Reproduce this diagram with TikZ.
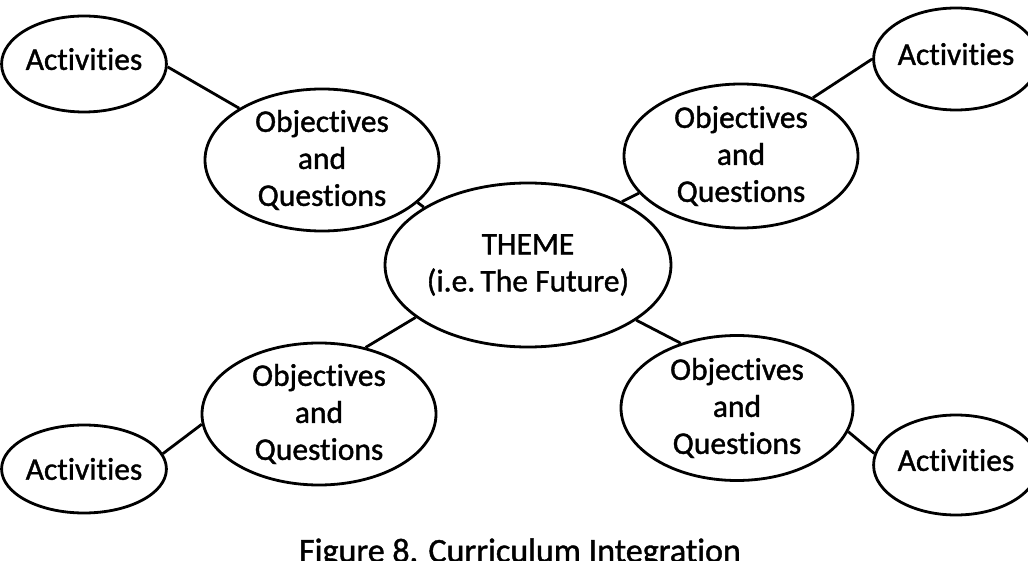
\documentclass[tikz,border=0pt]{standalone}
\usepackage{fontspec}
\setmainfont{Carlito}[FakeBold=1.2, Ligatures=NoCommon]
\usetikzlibrary{shapes.geometric}
\begin{document}
\begin{tikzpicture}[x=1pt,y=-1pt,
  bub/.style={draw, ellipse, line width=2.8pt, inner sep=0pt, align=center,
    font=\fontsize{31.5}{37}\selectfont},
  raised/.style={text depth=10pt},
  link/.style={line width=2.8pt}]
\useasboundingbox (0,0) rectangle (1028,561);
\node[bub, raised, minimum width=146pt, minimum height=96pt] (a1) at (84,64) {Activities};
\node[bub, raised, minimum width=142pt, minimum height=102pt] (a2) at (956,59) {Activities};
\node[bub, minimum width=144pt, minimum height=88pt] (a3) at (84,469) {Activities};
\node[bub, raised, minimum width=140pt, minimum height=100pt] (a4) at (956,465) {Activities};
\node[bub, minimum width=234pt, minimum height=142pt] (o1) at (322,160) {Objectives\\and\\Questions};
\node[bub, minimum width=234pt, minimum height=144pt] (o2) at (741,156) {Objectives\\and\\Questions};
\node[bub, minimum width=234pt, minimum height=142pt] (o3) at (319,414) {Objectives\\and\\Questions};
\node[bub, minimum width=232pt, minimum height=145pt] (o4) at (737,408) {Objectives\\and\\Questions};
\node[bub, minimum width=234pt, minimum height=164pt] (t) at (528,265) {THEME\\(i.e.\,The Future)};
\draw[link] (a1.-2) -- (o1.148.6);
\draw[link] (o2.39) -- (a2.180);
\draw[link] (o3.185) -- (a3.11);
\draw[link] (o4.-12.7) -- (a4.172);
\draw[link] (o1.-24.6) -- (t.151.7);
\draw[link] (t.34.2) -- (o2.200.1);
\draw[link] (t.205.2) -- (o3.55.4);
\draw[link] (t.-27.3) -- (o4.131.2);
\node[anchor=base, inner sep=0pt, font=\fontsize{34}{40}\selectfont] (cap) at (520,562) {Figure 8. Curriculum Integration};
\end{tikzpicture}
\end{document}
